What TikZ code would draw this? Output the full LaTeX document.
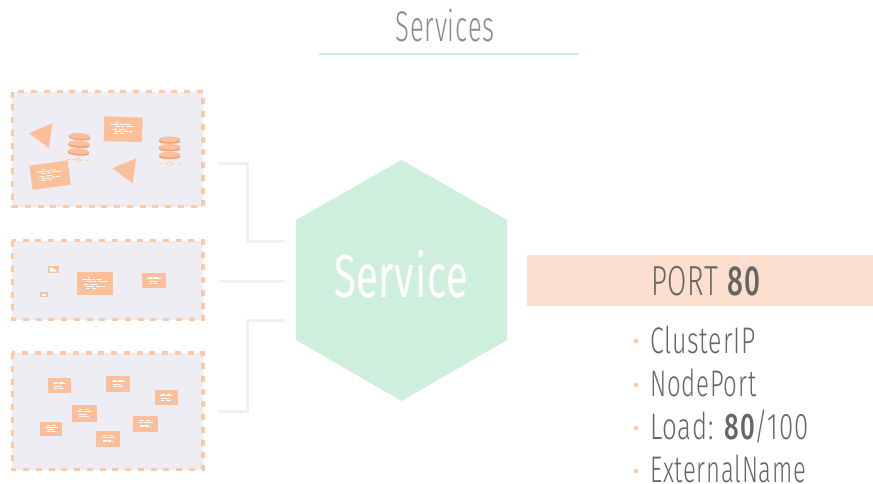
\documentclass[tikz,border=0pt]{standalone}
\usepackage{graphicx}
\usepackage{fontspec}
\setmainfont{Liberation Sans}
\newfontfamily\lightf[FakeStretch=0.62,LetterSpace=2]{Fira Sans Light}
\newfontfamily\regf[FakeStretch=0.62,LetterSpace=1]{Fira Sans}
\newfontfamily\boldf[FakeStretch=0.62,LetterSpace=2]{Fira Sans Medium}
\newcommand{\fitw}[2]{\resizebox{#1}{\height}{#2}}
\definecolor{panelfill}{HTML}{EEEDF4}
\definecolor{dashor}{HTML}{FCC8A6}
\definecolor{chipor}{HTML}{FBC09A}
\definecolor{darkor}{HTML}{EDA273}
\definecolor{hexgreen}{HTML}{CFEFDD}
\definecolor{linegreen}{HTML}{C8EBD6}
\definecolor{barfill}{HTML}{FDDFCF}
\definecolor{txtgray}{HTML}{666666}
\definecolor{titlegray}{HTML}{8A8A8A}
\definecolor{conn}{HTML}{F0F0F0}
\tikzset{
  x=1pt,y=-1pt,
  panel/.style={fill=panelfill,draw=dashor,line width=3.4pt,dash pattern=on 6pt off 6.75pt},
  link/.style={draw=conn,line width=3pt},
  tline/.style={draw=white,line width=.8pt},
  bul/.style={circle,fill=dashor,inner sep=0pt,minimum size=4.5pt},
  item/.style={anchor=base west,text=txtgray,inner sep=0pt,font=\lightf\fontsize{37}{37}\selectfont},
}
\newcommand{\blocklong}[3]{\begin{scope}[shift={#1},rotate=#3,scale=#2]
  \draw[tline] (-7,-7.5)--(-5,-7.5) (-13,-5.5)--(-4,-5.5) (-3,-5.5)--(0,-5.5) (1,-5.5)--(7,-5.5)
   (-8,-3.5)--(-3,-3.5) (-2,-3.5)--(1,-3.5) (3,-3.5)--(12,-3.5)
   (-11,-.5)--(-6,-.5) (-4,-.5)--(2,-.5) (-9,1.5)--(-1,1.5) (1,1.5)--(5,1.5) (6,1.5)--(10,1.5)
   (-9,3.5)--(-5,3.5) (-3,3.5)--(1,3.5);
\end{scope}}
\newcommand{\blockshort}[3]{\begin{scope}[shift={#1},rotate=#3,scale=#2]
  \draw[tline] (-6,-5)--(-1,-5) (1,-5)--(6,-5) (-8,-3)--(-2,-3) (-1,-3)--(9,-3)
   (-6,.5)--(4,.5) (-6,2.5)--(-1,2.5) (0,2.5)--(6,2.5);
\end{scope}}
\newcommand{\disk}[1]{
  \fill[darkor] (-10.5,#1-1) rectangle (10.5,#1+1.2);
  \fill[darkor] (0,#1+1.2) ellipse (10.5 and 2.2);
  \fill[chipor] (0,#1-1) ellipse (10.5 and 2.9);}
\newcommand{\stack}[2]{\begin{scope}[shift={#1},rotate=#2]
  \disk{-7.6}\disk{0}\disk{7.7}
  \draw[draw=chipor!75,line width=.8pt] (0,15.5) circle (2.1);
  \draw[draw=chipor!75,line width=1pt] (-11,15.5)--(-8,15.5) (-5,15.5)--(-2.1,15.5) (2.1,15.5)--(5,15.5) (8,15.5)--(11,15.5);
\end{scope}}
\begin{document}
\begin{tikzpicture}
\useasboundingbox (0,0) rectangle (873,484);
\node[inner sep=0pt,anchor=base,text=titlegray,font=\lightf\fontsize{43}{43}\selectfont] (title) at (445,42) {\fitw{99pt}{Services}};
\coordinate (ruleL) at (319,54.5); \coordinate (ruleR) at (578,54.5);
\draw[linegreen,line width=2pt] (ruleL)--(ruleR);
\draw[panel] (12.3,91.7) rectangle (203,206.7);
\draw[panel] (12.3,240.7) rectangle (203,319.5);
\draw[panel] (12.3,353) rectangle (203,469.7);
\fill[chipor] (52.3,123.3)--(29,133.3)--(49,148.3)--cycle;
\fill[chipor] (136,158.3)--(112.3,168.3)--(132.7,183.3)--cycle;
\fill[chipor] (104.3,116.3)--(142.7,117.7)--(141.7,142)--(103.7,141.3)--cycle;
\fill[chipor] (29.3,165.7)--(67.7,160.3)--(70.7,184.7)--(32.7,190)--cycle;
\blocklong{(123,130)}{1}{-1}
\blocklong{(50,176)}{1}{8}
\stack{(79,144.5)}{-4}
\stack{(169.7,148)}{0}
\fill[chipor] (48,266) rectangle (59,273);
\fill[white] (49.5,267.5) rectangle (52,269.5) (50,269.5) rectangle (56,271.5) (52,268) rectangle (54,270);
\fill[chipor] (40,292) rectangle (48,297);
\fill[white] (41.5,293.5) rectangle (46,295.8);
\fill[chipor] (77,272) rectangle (113,295);
\blocklong{(95,285)}{1}{0}
\fill[chipor] (142,273) rectangle (166,288);
\blockshort{(153.5,281)}{.8}{0}
\fill[chipor] (48,378) rectangle (71,393);
\blockshort{(59,386)}{.8}{0}
\fill[chipor] (106,376) rectangle (130,392);
\blockshort{(118,384)}{.8}{0}
\fill[chipor] (155,390) rectangle (178,405);
\blockshort{(166,398)}{.8}{0}
\fill[chipor] (72,405) rectangle (97,422);
\blockshort{(84,414)}{.85}{0}
\fill[chipor] (40,422) rectangle (62,436);
\blockshort{(51,429.5)}{.75}{0}
\fill[chipor] (133,416) rectangle (158,432);
\blockshort{(145,424.5)}{.85}{0}
\fill[chipor] (96,431) rectangle (120,447);
\blockshort{(108,439.5)}{.8}{0}
\coordinate (a1) at (219,164); \coordinate (a2) at (247,164); \coordinate (a3) at (247,241); \coordinate (a4) at (285,241);
\coordinate (b1) at (219,281); \coordinate (b2) at (285,281);
\coordinate (c1) at (219,411); \coordinate (c2) at (247,411); \coordinate (c3) at (247,320); \coordinate (c4) at (285,320);
\draw[link] (a1)--(a2)--(a3)--(a4);
\draw[link] (b1)--(b2);
\draw[link] (c1)--(c2)--(c3)--(c4);
\fill[hexgreen] (401.5,160)--(507,220)--(507,340)--(401.5,401)--(296,340)--(296,220)--cycle;
\node[inner sep=0pt,anchor=base,text=white,font=\regf\fontsize{61}{61}\selectfont] (svc) at (401,297) {\fitw{134pt}{Service}};
\fill[barfill] (527,255) rectangle (873,306);
\node[inner sep=0pt,anchor=base,text=txtgray,font=\lightf\fontsize{42}{42}\selectfont] (port) at (705.5,295) {\fitw{109pt}{PORT {\boldf 80}}};
\node[bul] (b1n) at (636,341) {};
\node[item] (i1) at (650,353) {\fitw{105pt}{ClusterIP}};
\node[bul] (b2n) at (636,385) {};
\node[item] (i2) at (650,396) {\fitw{106pt}{NodePort}};
\node[bul] (b3n) at (636,428) {};
\node[item] (i3) at (650,439.5) {\fitw{158pt}{Load: {\boldf 80}/100}};
\node[bul] (b4n) at (636,471) {};
\node[item] (i4) at (650,482) {\fitw{156pt}{ExternalName}};
\end{tikzpicture}
\end{document}
